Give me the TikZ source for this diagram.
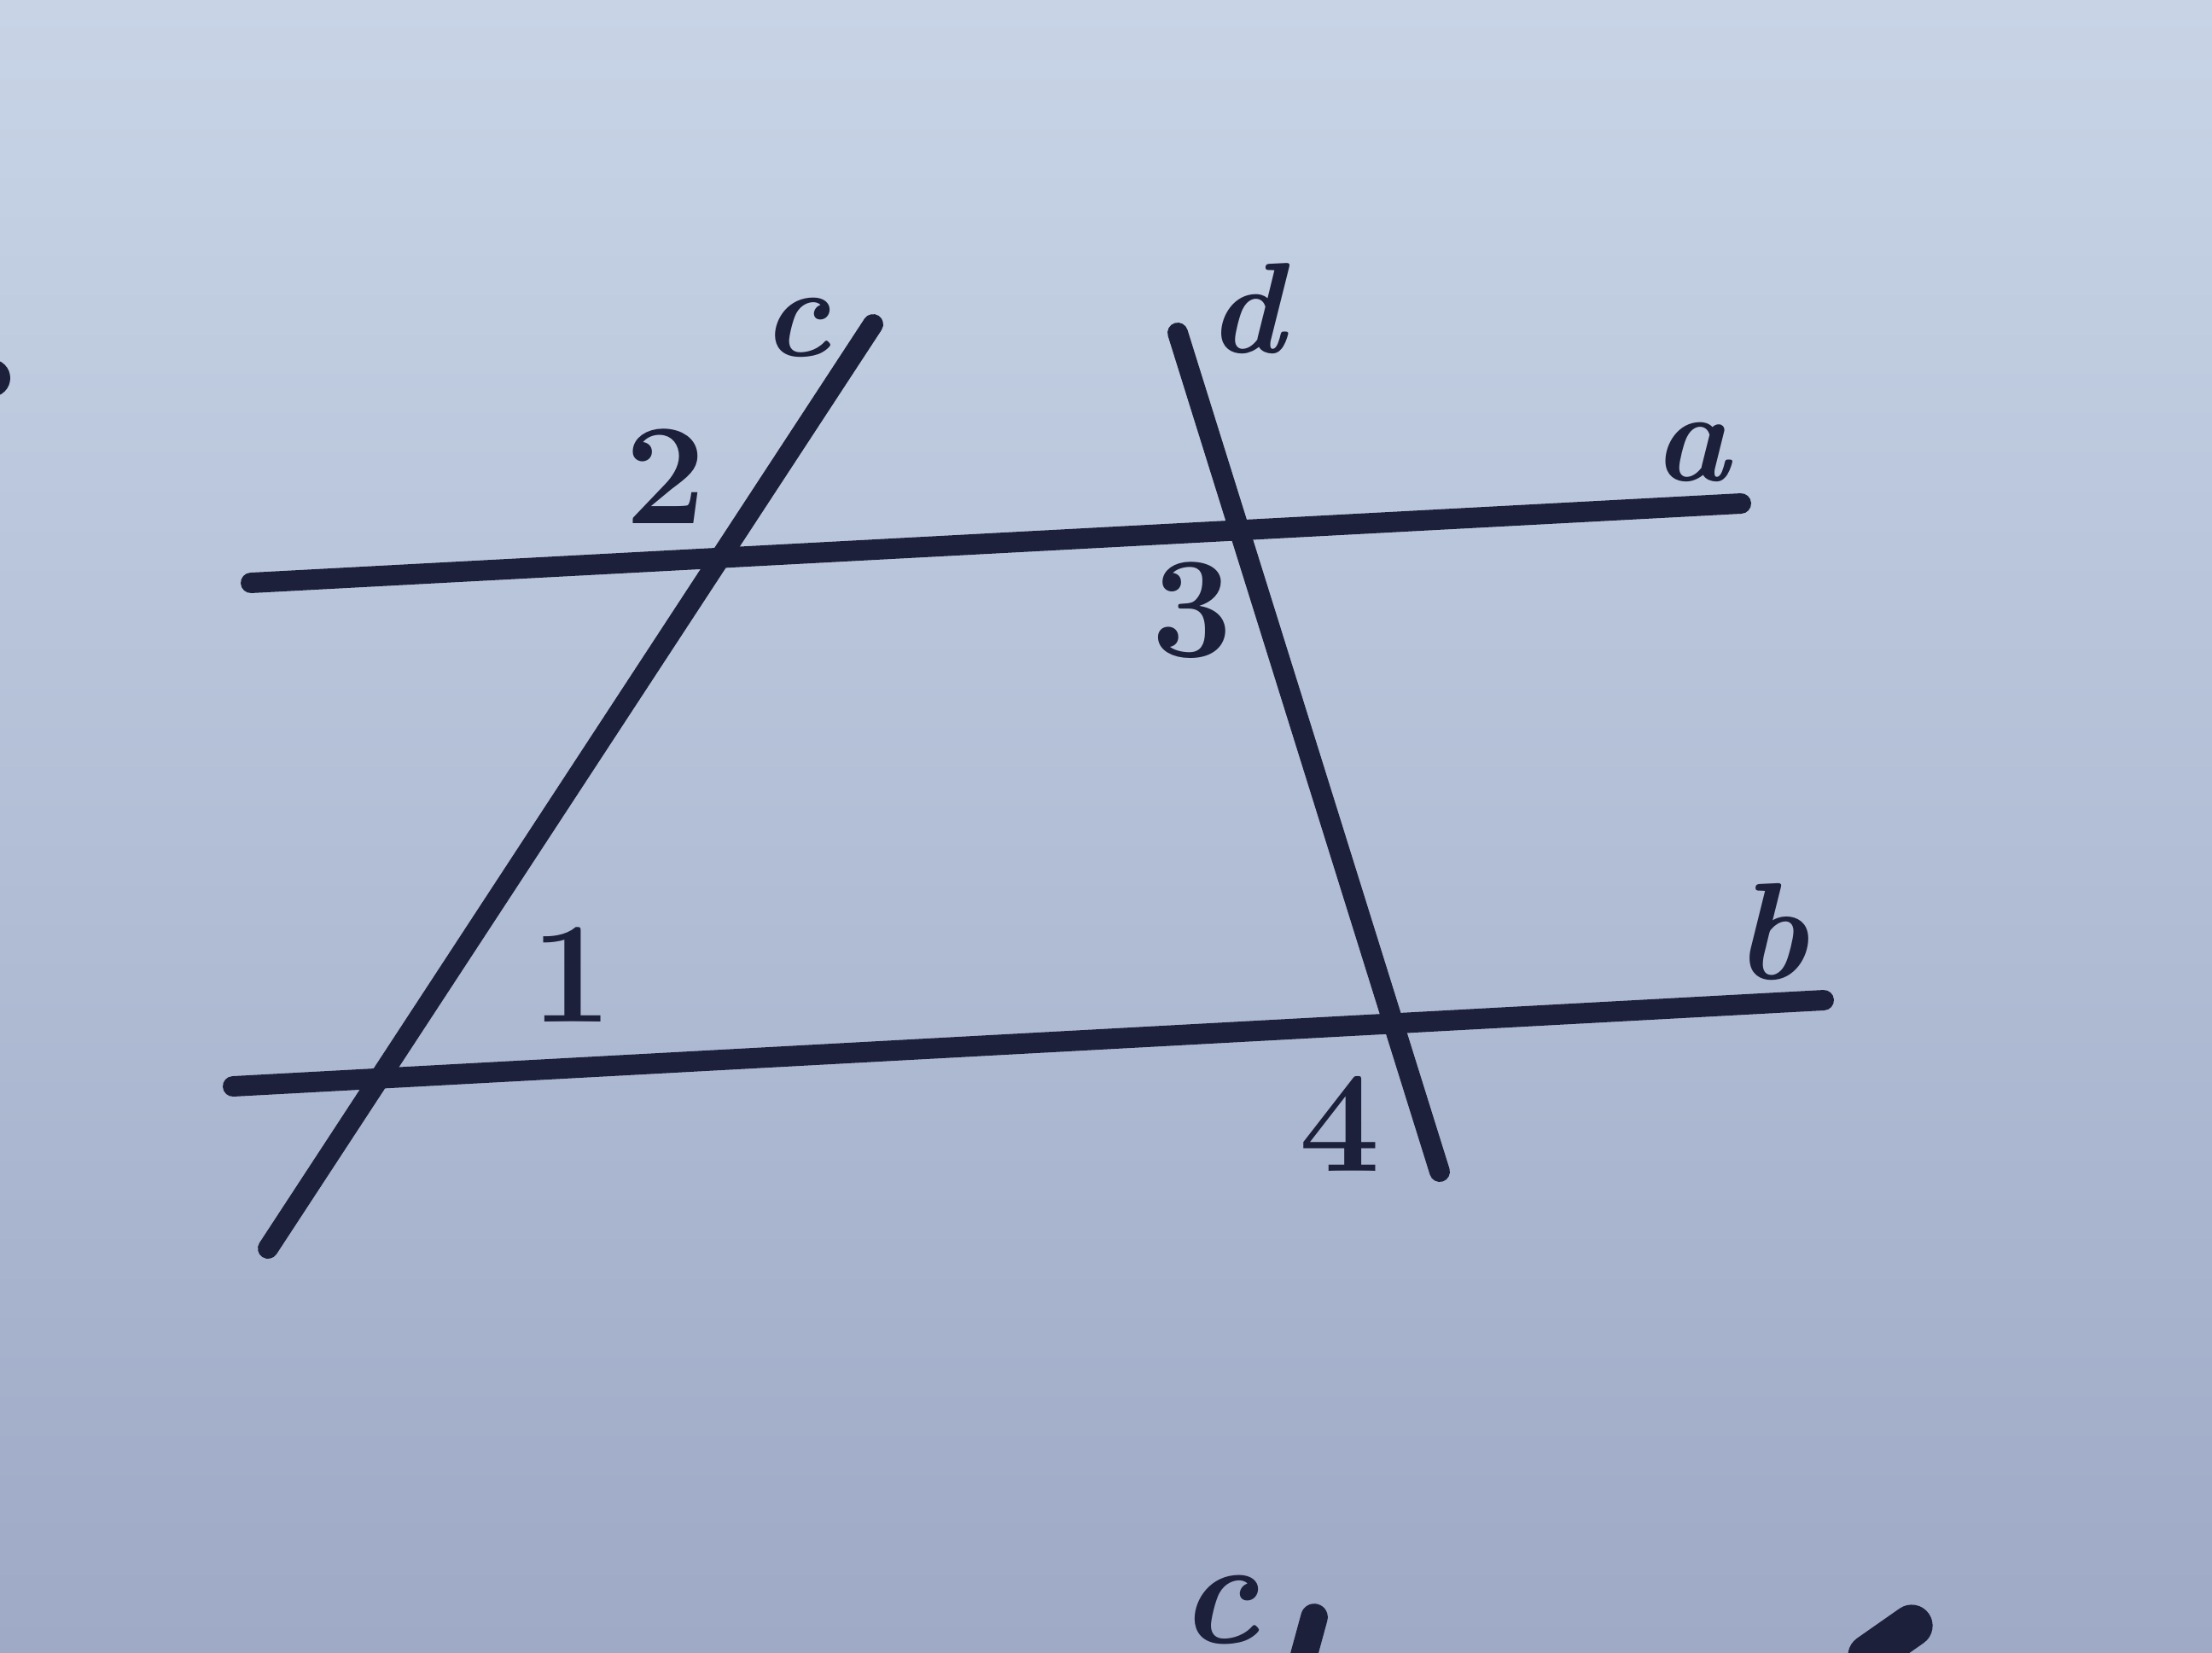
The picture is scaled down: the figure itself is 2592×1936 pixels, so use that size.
\documentclass[tikz,border=0pt]{standalone}
\usepackage{tikz}
\definecolor{ink}{RGB}{28,32,58}
\definecolor{papertop}{RGB}{200,212,230}
\definecolor{paperbot}{RGB}{158,170,198}
\newcommand{\bigsz}{\fontsize{48}{56}\selectfont}
\newcommand{\letsz}{\fontsize{43}{50}\selectfont}
\tikzset{
  geoline/.style={draw=ink, line width=6.8pt, line cap=round},
  lbl/.style={text=ink, anchor=base, inner sep=0pt, font=\letsz\bfseries\itshape},
  num/.style={text=ink, anchor=base, inner sep=0pt, font=\bigsz\bfseries}
}
\begin{document}
\begin{tikzpicture}[x=0.01cm, y=-0.01cm]
\useasboundingbox (0,0) rectangle (2592,1936);
\shade[top color=papertop, bottom color=paperbot] (0,0) rectangle (2592,1936);
\begin{scope}
\clip (0,0) rectangle (2592,1936);
\coordinate (a1) at (294,683);
\coordinate (a2) at (2040,590);
\coordinate (b1) at (273,1273);
\coordinate (b2) at (2137,1172);
\coordinate (c1) at (314,1463);
\coordinate (c2) at (1023,380);
\coordinate (d1) at (1380,390);
\coordinate (d2) at (1687,1373);
\draw[geoline] (a1) -- (a2);
\draw[geoline] (b1) -- (b2);
\draw[geoline] (c1) -- (c2);
\draw[geoline] (d1) -- (d2);
\node[lbl] (labA) at (1982,563) {a};
\node[lbl, font=\fontsize{46}{52}\selectfont\bfseries\itshape] (labB) at (2075,1147) {b};
\node[lbl] (labC) at (933,417) {c};
\node[lbl] (labD) at (1460,413) {d};
\node[num] (num1) at (670,1197) {1};
\node[num] (num2) at (780,613) {2};
\node[num] (num3) at (1397,769) {3};
\node[num] (num4) at (1570,1372) {4};
\node[lbl, font=\fontsize{50}{56}\selectfont\bfseries\itshape] (frag) at (1428,1925) {c};
\draw[ink, line width=9pt, line cap=round] (1540,1895) -- (1525,1950);
\draw[ink, line width=14pt, line cap=round] (2190,1940) -- (2240,1905);
\fill[ink] (-10,443) circle (22);
\end{scope}
\end{tikzpicture}
\end{document}
